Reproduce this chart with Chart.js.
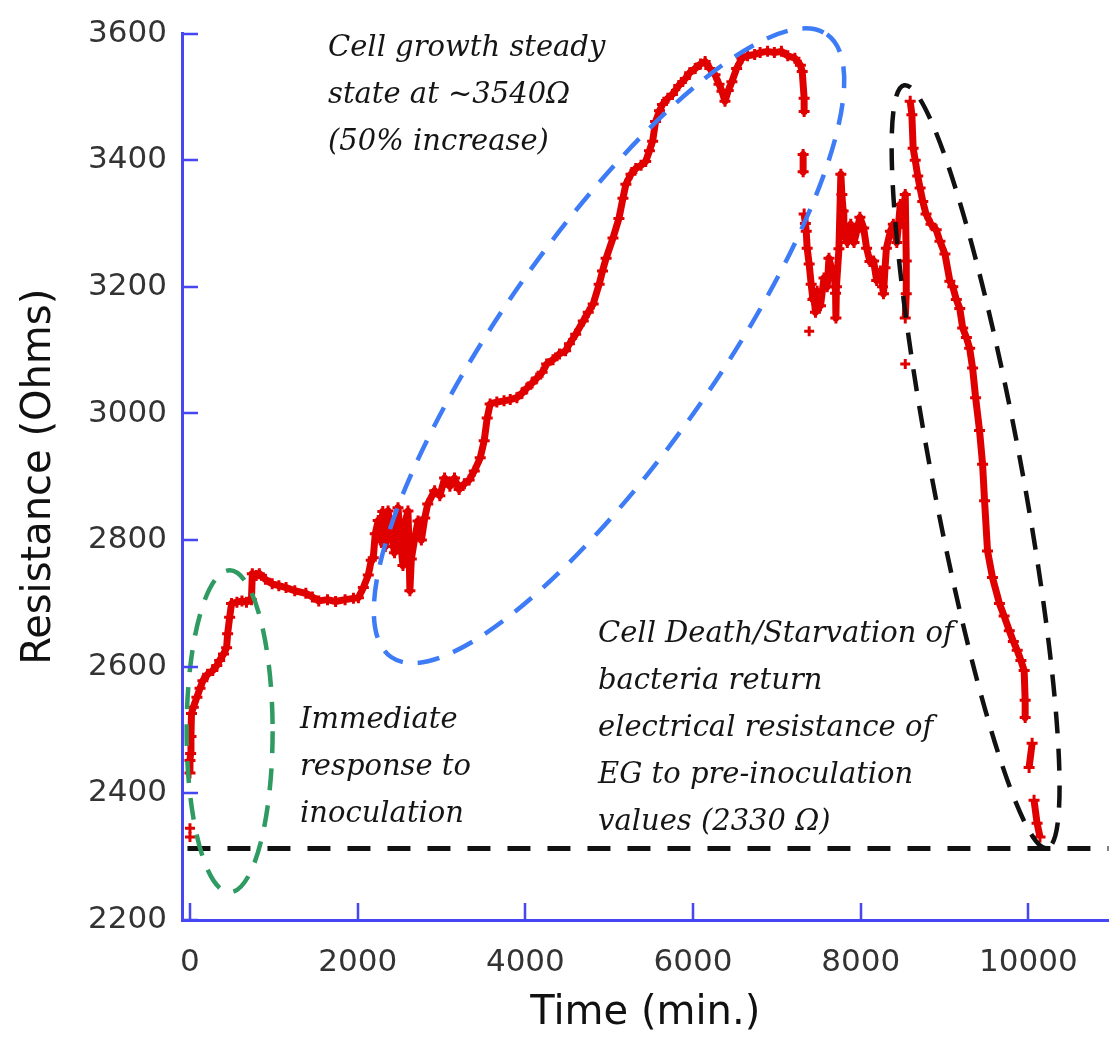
<!DOCTYPE html>
<html>
<head>
<meta charset="utf-8">
<script src="https://cdn.jsdelivr.net/npm/chart.js@4.4.1/dist/chart.umd.min.js"></script>
<style>
  html, body { margin: 0; padding: 0; background: #fff; }
  canvas { display: block; }
</style>
</head>
<body>
<canvas id="resistance-chart" width="1117" height="1038" style="width:1117px;height:1038px"></canvas>
<script>
// Resistance of the EG sensor over time. null = gap in the trace
const timeMin = [
    0, 0, 8, 12, 18, 40, 83, 120, 154, 210, 272, 320, 354, 400, 437, 449, 473, 496, 560, 620,
    674, 733, 744, 790, 827, 900, 981, 1060, 1146, 1250, 1382, 1460, 1536, 1640, 1737, 1850, 1950, 2009, 2068, 2127,
    2162, 2186, 2210, 2245, 2270, 2300, 2330, 2363, 2400, 2440, 2481, 2510, 2540, 2570, 2600, 2612, 2623, 2640, 2682, 2720,
    2760, 2800, 2836, 2918, 2980, 3037, 3100, 3155, 3210, 3273, 3330, 3391, 3462, 3509, 3545, 3580, 3660, 3746, 3820, 3899,
    3960, 4017, 4080, 4136, 4200, 4254, 4330, 4407, 4480, 4526, 4600, 4691, 4750, 4809, 4880, 4920, 4963, 5045, 5116, 5164,
    5199, 5260, 5317, 5380, 5435, 5480, 5518, 5553, 5600, 5636, 5700, 5754, 5830, 5908, 5960, 6026, 6090, 6144, 6200, 6262,
    6310, 6345, 6381, 6420, 6463, 6520, 6582, 6650, 6735, 6800, 6889, 6970, 7054, 7130, 7215, 7280, 7302, 7325, 7325, 7325,
    7313, 7313, 7313, 7325, 7340, 7350, 7361, 7385, 7409, 7430, 7444, 7460, 7480, 7520, 7562, 7600, 7621, 7650, 7680, 7700,
    7704, 7710, 7740, 7763, 7775, 7790, 7798, 7840, 7881, 7920, 7952, 7990, 8035, 8070, 8110, 8153, 8190, 8235, 8260, 8271,
    8290, 8306, 8354, 8389, 8430, 8472, 8500, 8531, 8543, 8543, 8531, 8531, 8590, 8610, 8625, 8650, 8680, 8708, 8740, 8779,
    8838, 8900, 8945, 9004, 9063, 9098, 9140, 9181, 9216, 9260, 9299, 9334, 9370, 9417, 9453, 9477, 9512, 9571, 9654, 9710,
    9772, 9820, 9866, 9910, 9949, 9961, 9961, 9961, 10044, 10008, 10008, 10067, 10103, 10138
];
const resistanceOhms = [
    2432, 2452, 2463, 2490, 2526, 2536, 2552, 2566, 2578, 2588, 2594, 2602, 2610, 2620, 2630, 2652, 2678, 2700, 2702, 2704,
    2702, 2706, 2747, 2744, 2747, 2738, 2731, 2728, 2725, 2720, 2716, 2710, 2704, 2706, 2703, 2706, 2708, 2709, 2725, 2745,
    2768, 2772, 2810, 2831, 2800, 2845, 2790, 2846, 2810, 2780, 2851, 2800, 2760, 2830, 2846, 2790, 2720, 2770, 2804, 2830,
    2800, 2835, 2857, 2878, 2870, 2898, 2885, 2898, 2880, 2889, 2895, 2909, 2930, 2957, 2993, 3015, 3018, 3020, 3022, 3025,
    3032, 3040, 3048, 3056, 3065, 3078, 3085, 3094, 3099, 3110, 3125, 3146, 3160, 3173, 3204, 3225, 3245, 3277, 3308, 3340,
    3362, 3378, 3387, 3392, 3398, 3415, 3430, 3461, 3478, 3488, 3498, 3504, 3518, 3529, 3538, 3545, 3552, 3556, 3545, 3535,
    3520, 3509, 3493, 3510, 3524, 3545, 3561, 3565, 3567, 3570, 3572, 3570, 3572, 3565, 3561, 3550, 3540, 3498, 3477, null,
    3409, 3382, null, 3315, 3300, 3288, 3261, 3236, 3204, 3180, 3182, 3160, 3193, 3170, 3214, 3200, 3245, 3230, 3225, 3190,
    3151, 3200, 3260, 3378, 3346, 3320, 3288, 3270, 3299, 3270, 3288, 3310, 3293, 3261, 3240, 3241, 3210, 3225, 3200, 3189,
    3230, 3261, 3288, 3299, 3270, 3330, 3300, 3346, 3241, 3189, 3151, null, 3493, 3472, 3419, 3400, 3375, 3356, 3335, 3315,
    3299, 3290, 3272, 3252, 3209, 3200, 3180, 3166, 3135, 3120, 3103, 3072, 3025, 2973, 2920, 2862, 2783, 2741, 2700, 2680,
    2657, 2640, 2626, 2610, 2594, 2547, 2520, null, 2479, 2441, null, 2389, 2353, 2331
];
// isolated readings
const outlierTime = [0, 0, 7385, 8531];
const outlierOhms = [2331, 2345, 3130, 3078];

const baselineOhms = 2313;   // pre-inoculation level (dashed line)
const xTickValues = [0, 2000, 4000, 6000, 8000, 10000];
const yTickValues = [2200, 2400, 2600, 2800, 3000, 3200, 3400, 3600];

const axisBlue = '#4646f2';
const traceRed = '#e00000';

const ellipses = [
    { cx: 473, cy: 2498, rx: 43, ry: 161, angle: 0, color: '#2f9a62' },
    { cx: 4998, cy: 3107, rx: 380, ry: 108, angle: -55, color: '#3d7cf6' },
    { cx: 9370, cy: 2916, rx: 388, ry: 45, angle: 79.4, color: '#111111' }
];

const notes = [
    { x: 328, y: 56, lines: ['Cell growth steady', 'state at ~3540Ω', '(50% increase)'] },
    { x: 300, y: 728, lines: ['Immediate', 'response to', 'inoculation'] },
    { x: 598, y: 642, lines: ['Cell Death/Starvation of', 'bacteria return', 'electrical resistance of', 'EG to pre-inoculation', 'values (2330 Ω)'] }
];

const annotationPlugin = {
    id: 'annotations',
    afterDatasetsDraw(chart) {
        const ctx = chart.ctx;
        const xs = chart.scales.x, ys = chart.scales.y;
        ctx.save();
        ellipses.forEach(e => {
            ctx.beginPath();
            ctx.ellipse(xs.getPixelForValue(e.cx), ys.getPixelForValue(e.cy), e.rx, e.ry,
                e.angle * Math.PI / 180, 0, Math.PI * 2);
            ctx.setLineDash([22, 15]);
            ctx.lineWidth = 4.5;
            ctx.strokeStyle = e.color;
            ctx.stroke();
        });
        ctx.setLineDash([]);
        ctx.font = 'italic 29px "DejaVu Serif"';
        ctx.fillStyle = '#151515';
        ctx.textAlign = 'left';
        ctx.textBaseline = 'alphabetic';
        notes.forEach(n => {
            n.lines.forEach((t, i) => ctx.fillText(t, n.x, n.y + i * 47));
        });
        ctx.restore();
    }
};

// tick marks pointing into the plot
const innerTicksPlugin = {
    id: 'innerTicks',
    afterDraw(chart) {
        const ctx = chart.ctx;
        const { left, bottom } = chart.chartArea;
        ctx.save();
        ctx.strokeStyle = axisBlue;
        ctx.lineWidth = 2.5;
        ctx.beginPath();
        xTickValues.forEach(v => {
            const px = Math.round(chart.scales.x.getPixelForValue(v));
            ctx.moveTo(px, bottom);
            ctx.lineTo(px, bottom - 17);
        });
        yTickValues.forEach(v => {
            const py = Math.round(chart.scales.y.getPixelForValue(v));
            ctx.moveTo(left, py);
            ctx.lineTo(left + 16, py);
        });
        ctx.stroke();
        ctx.restore();
    }
};

const traceData = timeMin.map((t, i) => ({ x: t, y: resistanceOhms[i] }));
const outlierData = outlierTime.map((t, i) => ({ x: t, y: outlierOhms[i] }));

const ctx = document.getElementById('resistance-chart').getContext('2d');
new Chart(ctx, {
    type: 'scatter',
    data: {
        datasets: [{
            label: 'Pre-inoculation baseline',
            data: [{ x: -30, y: baselineOhms }, { x: 11000, y: baselineOhms }],
            showLine: true,
            borderColor: '#111111',
            borderWidth: 5,
            borderDash: [23, 17],
            pointRadius: 0
        }, {
            label: 'Resistance',
            data: traceData,
            showLine: true,
            spanGaps: false,
            borderColor: traceRed,
            borderWidth: 7,
            borderJoinStyle: 'round',
            pointStyle: 'cross',
            pointRadius: 5.5,
            pointBorderWidth: 3,
            pointBorderColor: traceRed,
            pointBackgroundColor: traceRed
        }, {
            label: 'Isolated readings',
            data: outlierData,
            showLine: false,
            pointStyle: 'cross',
            pointRadius: 5,
            pointBorderWidth: 3,
            pointBorderColor: traceRed
        }]
    },
    options: {
        responsive: false,
        animation: false,
        devicePixelRatio: 1,
        layout: { padding: { top: 32, right: 0, left: 0, bottom: 0 } },
        plugins: {
            legend: { display: false },
            tooltip: { enabled: false }
        },
        scales: {
            x: {
                type: 'linear',
                min: -95,
                max: 10955,
                afterFit: s => { s.height = 118; },
                afterBuildTicks: s => { s.ticks = xTickValues.map(v => ({ value: v })); },
                grid: { display: false, drawTicks: false },
                border: { display: true, color: axisBlue, width: 3 },
                ticks: {
                    padding: 24,
                    color: '#333',
                    font: { family: '"DejaVu Sans"', size: 31 },
                    callback: v => String(v)
                },
                title: {
                    display: true,
                    text: 'Time (min.)',
                    color: '#111',
                    font: { family: '"DejaVu Sans"', size: 40, lineHeight: 1.2 },
                    padding: { top: 0, bottom: 0 }
                }
            },
            y: {
                type: 'linear',
                min: 2200,
                max: 3600,
                afterFit: s => { s.width = 182; },
                afterBuildTicks: s => { s.ticks = yTickValues.map(v => ({ value: v })); },
                grid: { display: false, drawTicks: false },
                border: { display: true, color: axisBlue, width: 3 },
                ticks: {
                    padding: 15,
                    color: '#333',
                    font: { family: '"DejaVu Sans"', size: 31 },
                    callback: v => String(v)
                },
                title: {
                    display: true,
                    text: 'Resistance (Ohms)',
                    color: '#111',
                    font: { family: '"DejaVu Sans"', size: 40, lineHeight: 1.2 },
                    padding: { top: 16, bottom: 0 }
                }
            }
        }
    },
    plugins: [annotationPlugin, innerTicksPlugin]
});
</script>
</body>
</html>
